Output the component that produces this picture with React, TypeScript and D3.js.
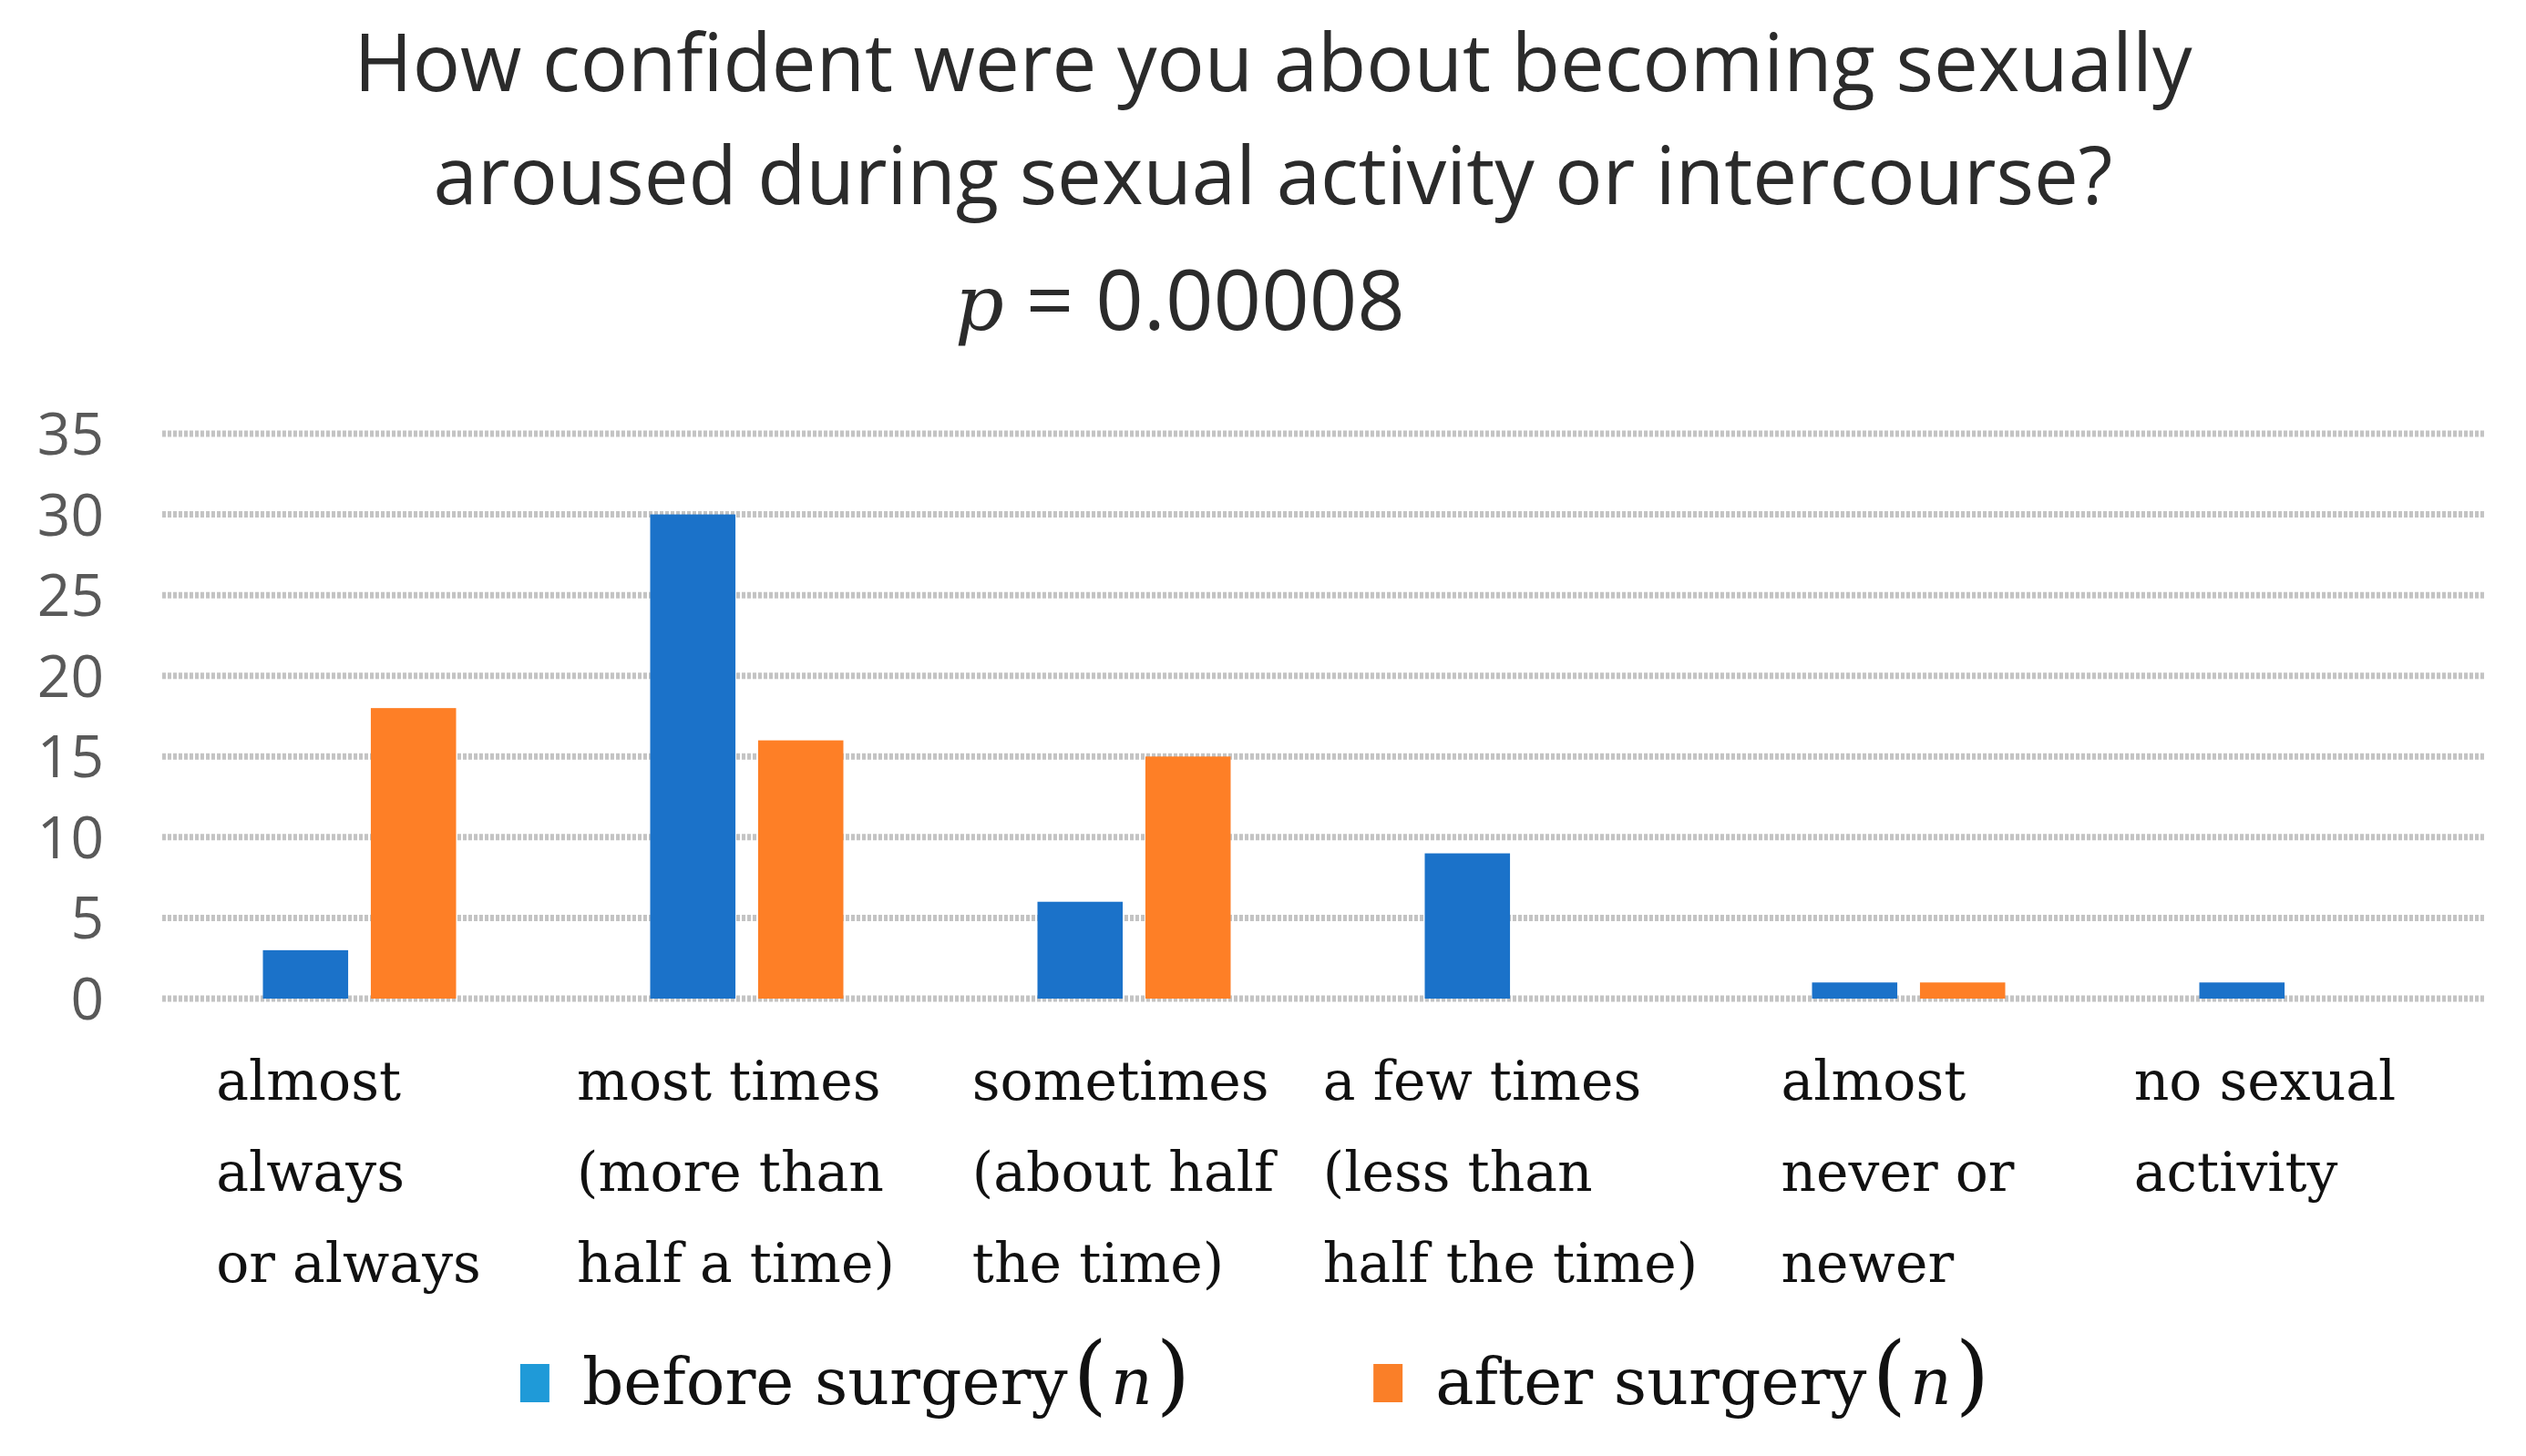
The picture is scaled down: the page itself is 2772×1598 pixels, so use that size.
import { useEffect, useRef } from 'react';
import * as d3 from 'd3';

const categories = [
  ['almost', 'always', 'or always'],
  ['most times', '(more than', 'half a time)'],
  ['sometimes', '(about half', 'the time)'],
  ['a few times', '(less than', 'half the time)'],
  ['almost', 'never or', 'newer'],
  ['no sexual', 'activity'],
];
const seriesNames = ['before surgery', 'after surgery'];
const beforeValues = [3, 30, 6, 9, 1, 1];
const afterValues = [18, 16, 15, 0, 1, 0];
const yTicks = [0, 5, 10, 15, 20, 25, 30, 35];
const titleLines = [
  'How confident were you about becoming sexually',
  'aroused during sexual activity or intercourse?',
];
const pValue = '0.00008';

const W = 2772;
const H = 1598;

const barColors = ['#1b72c9', '#fe7f26'];
const legendColors = ['#1f9ad8', '#fa7f28'];

const App = () => {
  const ref = useRef<SVGSVGElement>(null);

  useEffect(() => {
    document.body.style.margin = '0';
    if (!ref.current) return;
    const svg = d3.select(ref.current);
    svg.selectAll('*').remove();

    const plot = { left: 178, right: 2728, top: 476, bottom: 1096 };

    const x = d3.scaleBand<number>()
      .domain(categories.map((_, i) => i))
      .range([plot.left, plot.right]);
    const groupW = 212;
    const x1 = d3.scaleBand<number>()
      .domain([0, 1])
      .range([0, groupW])
      .paddingInner(0.21);
    const y = d3.scaleLinear().domain([0, 35]).range([plot.bottom, plot.top]);

    svg.append('rect').attr('width', W).attr('height', H).attr('fill', '#fff');

    // title
    const title = svg.append('g')
      .attr('font-family', '"Open Sans", sans-serif')
      .attr('fill', '#2b2b2b')
      .attr('text-anchor', 'middle');
    titleLines.forEach((t, i) => {
      title.append('text')
        .attr('x', 1397)
        .attr('y', 100 + i * 124)
        .attr('font-size', 87)
        .text(t);
    });
    const pt = svg.append('text')
      .attr('x', 1295)
      .attr('y', 362)
      .attr('text-anchor', 'middle')
      .attr('fill', '#2b2b2b')
      .attr('font-size', 92)
      .attr('font-family', '"Open Sans", sans-serif');
    pt.append('tspan')
      .attr('font-family', '"DejaVu Serif", serif')
      .attr('font-style', 'italic')
      .attr('font-size', 84)
      .text('p');
    pt.append('tspan').text(` = ${pValue}`);

    // gridlines
    svg.append('g')
      .selectAll('line')
      .data(yTicks)
      .join('line')
      .attr('x1', plot.left)
      .attr('x2', plot.right)
      .attr('y1', d => y(d))
      .attr('y2', d => y(d))
      .attr('stroke', '#c4c4c4')
      .attr('stroke-width', 7)
      .attr('stroke-dasharray', '4 2');

    // y tick labels
    svg.append('g')
      .selectAll('text')
      .data(yTicks)
      .join('text')
      .attr('x', 114)
      .attr('y', d => y(d))
      .attr('dy', '0.36em')
      .attr('text-anchor', 'end')
      .attr('font-family', '"Open Sans", sans-serif')
      .attr('font-size', 64)
      .attr('fill', '#595959')
      .text(d => d);

    // bars
    const series = [beforeValues, afterValues];
    const groups = svg.append('g')
      .selectAll('g')
      .data(categories.map((_, i) => i))
      .join('g')
      .attr('transform', i => `translate(${(x(i) ?? 0) + (x.bandwidth() - groupW) / 2 + 4},0)`);
    groups.selectAll('rect')
      .data(i => series.map((s, k) => ({ k, v: s[i] })).filter(d => d.v > 0))
      .join('rect')
      .attr('x', d => x1(d.k) ?? 0)
      .attr('width', x1.bandwidth())
      .attr('y', d => y(d.v))
      .attr('height', d => y(0) - y(d.v))
      .attr('fill', d => barColors[d.k]);

    // category labels (left-aligned block, centered under band)
    const labels = svg.append('g')
      .attr('font-family', '"DejaVu Serif", serif')
      .attr('font-size', 60)
      .attr('fill', '#111');
    categories.forEach((lines, i) => {
      const g = labels.append('g');
      const texts = lines.map((l, j) =>
        g.append('text').attr('y', 1207 + j * 100).text(l)
      );
      const maxW = d3.max(texts, t => (t.node() as SVGTextElement).getComputedTextLength()) || 0;
      const cx = (x(i) ?? 0) + x.bandwidth() / 2 - (i === 5 ? 30 : 8);
      texts.forEach(t => t.attr('x', cx - maxW / 2));
    });

    // legend
    const legend = svg.append('g')
      .attr('font-family', '"DejaVu Serif", serif')
      .attr('font-size', 71)
      .attr('fill', '#111');
    const gap = 215;
    let cursor = 0;
    seriesNames.forEach((name, k) => {
      const g = legend.append('g').attr('transform', `translate(${cursor},0)`);
      g.append('rect')
        .attr('x', 0)
        .attr('y', 1497)
        .attr('width', 32)
        .attr('height', 42)
        .attr('fill', legendColors[k]);
      const t = g.append('text').attr('x', 68).attr('y', 1541);
      t.append('tspan').text(name);
      t.append('tspan').attr('font-size', 96).attr('font-weight', 300).attr('dx', 6).text('(');
      t.append('tspan').attr('font-style', 'italic').attr('dx', 4).text('n');
      t.append('tspan').attr('font-size', 96).attr('font-weight', 300).attr('dx', 4).text(')');
      const w = 68 + (t.node() as SVGTextElement).getComputedTextLength();
      cursor += w + gap;
    });
    const total = cursor - gap;
    legend.attr('transform', `translate(${1370 - total / 2},0)`);
  }, []);

  return <svg ref={ref} width={W} height={H} style={{ display: 'block' }} />;
};

export default App;
